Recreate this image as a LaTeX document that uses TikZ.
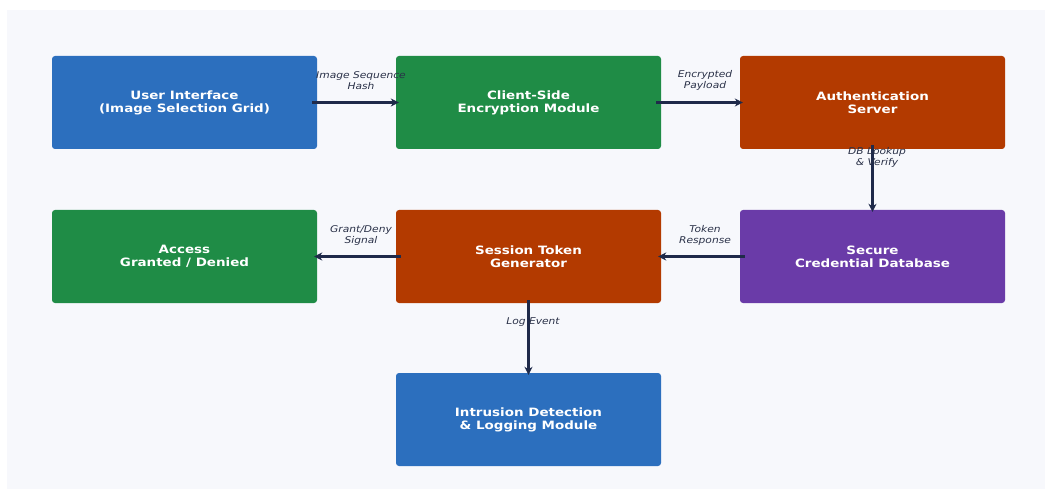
\documentclass[tikz,border=0pt]{standalone}
\usepackage{fontspec}
\setmainfont{DejaVu Sans}
\newfontfamily\boxfont[FakeStretch=1.17]{DejaVu Sans Bold}
\newfontfamily\labfont[FakeStretch=1.15]{DejaVu Sans Oblique}
\usetikzlibrary{arrows.meta}
\definecolor{bg}{HTML}{F7F8FC}
\definecolor{cblue}{HTML}{2C6FBE}
\definecolor{cgreen}{HTML}{1F8C46}
\definecolor{corange}{HTML}{B33A00}
\definecolor{cpurple}{HTML}{6A3BA8}
\definecolor{navy}{HTML}{1F2A4A}
\definecolor{lbl}{HTML}{2A3148}
\tikzset{
  box/.style={rounded corners=3pt, minimum width=265pt, minimum height=93pt, inner sep=0pt,
    text=white, align=center, font=\boxfont\fontsize{11.5}{13.2}\selectfont},
  conn/.style={navy, line width=2.4pt, -{Stealth[length=8pt,width=8pt]}},
  lab/.style={text=lbl, align=center, font=\labfont\fontsize{9.3}{11}\selectfont},
}
\begin{document}
\begin{tikzpicture}[x=1pt,y=-1pt]
\useasboundingbox (0,0) rectangle (1052,489);
\fill[bg] (7,10) rectangle (1045,489);
\node[box, fill=cblue] (ui) at (184.5,102.5) {User Interface\\(Image Selection Grid)};
\node[box, fill=cgreen] (enc) at (528.5,102.5) {Client-Side\\Encryption Module};
\node[box, fill=corange] (auth) at (872.5,102.5) {Authentication\\Server};
\node[box, fill=cgreen] (acc) at (184.5,256.5) {Access\\Granted / Denied};
\node[box, fill=corange] (tok) at (528.5,256.5) {Session Token\\Generator};
\node[box, fill=cpurple] (db) at (872.5,256.5) {Secure\\Credential Database};
\node[box, fill=cblue] (ids) at (528.5,419.5) {Intrusion Detection\\\& Logging Module};

\draw[conn] ([xshift=-5pt]ui.east) -- ([xshift=3pt]enc.west);
\draw[conn] ([xshift=-5pt]enc.east) -- ([xshift=3pt]auth.west);
\draw[conn] ([yshift=4pt]auth.south) -- ([yshift=-2pt]db.north);
\draw[conn] ([xshift=5pt]db.west) -- ([xshift=-3pt]tok.east);
\draw[conn] ([xshift=5pt]tok.west) -- ([xshift=-3pt]acc.east);
\draw[conn] ([yshift=3pt]tok.south) -- ([yshift=-2pt]ids.north);

\node[lab] (l1) at (361,80.5) {Image Sequence\\Hash};
\node[lab] (l2) at (705,80.5) {Encrypted\\Payload};
\node[lab] (l3) at (877,157.5) {DB Lookup\\\& Verify};
\node[lab] (l4) at (361,235.5) {Grant/Deny\\Signal};
\node[lab] (l5) at (705,235.5) {Token\\Response};
\node[lab] (l6) at (533,322) {Log Event};
\end{tikzpicture}
\end{document}
